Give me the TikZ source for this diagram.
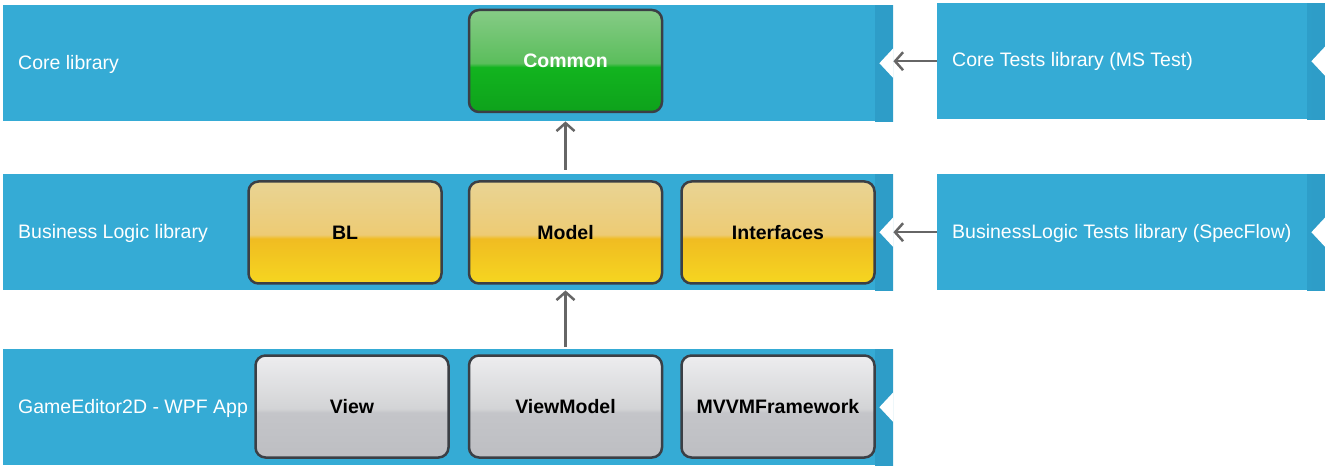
\documentclass[tikz,border=0pt]{standalone}
\usepackage{fontspec}
\setmainfont{Liberation Sans}
\usetikzlibrary{positioning, arrows.meta}

\definecolor{bandblue}{HTML}{35ABD5}
\definecolor{bandedge}{HTML}{2E9DC8}
\definecolor{boxline}{HTML}{3B3F45}
\definecolor{arrowgray}{HTML}{666666}
\definecolor{greenA}{HTML}{86CB86}
\definecolor{greenB}{HTML}{5BBE5C}
\definecolor{greenC}{HTML}{12B41F}
\definecolor{greenD}{HTML}{0EA21B}
\definecolor{yellowA}{HTML}{E9D494}
\definecolor{yellowB}{HTML}{EDCB74}
\definecolor{yellowC}{HTML}{F0BC22}
\definecolor{yellowD}{HTML}{F6D620}
\definecolor{grayA}{HTML}{EDEDEF}
\definecolor{grayB}{HTML}{D3D4D6}
\definecolor{grayC}{HTML}{C4C5C9}
\definecolor{grayD}{HTML}{BDBEC2}

\pgfdeclareverticalshading{greengloss}{100bp}{color(0bp)=(greenD); color(25bp)=(greenD); color(47bp)=(greenC); color(49bp)=(greenB); color(75bp)=(greenA); color(100bp)=(greenA)}
\pgfdeclareverticalshading{yellowgloss}{100bp}{color(0bp)=(yellowD); color(25bp)=(yellowD); color(47bp)=(yellowC); color(49bp)=(yellowB); color(75bp)=(yellowA); color(100bp)=(yellowA)}
\pgfdeclareverticalshading{graygloss}{100bp}{color(0bp)=(grayD); color(25bp)=(grayD); color(47bp)=(grayC); color(49bp)=(grayB); color(75bp)=(grayA); color(100bp)=(grayA)}

\tikzset{
	band/.style={fill=bandblue, minimum width=890pt, minimum height=116pt, anchor=north west, inner sep=0pt,
		path picture={\shade[left color=bandblue, right color=bandedge] ([xshift=-18pt]path picture bounding box.north east) rectangle (path picture bounding box.south east);}},
	bandlabel/.style={text=white, font=\fontsize{19.5}{22}\selectfont, inner sep=0pt},
	module/.style={draw=boxline, line width=2.5pt, rounded corners=10pt, minimum width=193pt, minimum height=102pt, font=\bfseries\fontsize{19.5}{22}\selectfont},
	common/.style={module, shading=greengloss, text=white},
	logic/.style={module, shading=yellowgloss},
	ui/.style={module, shading=graygloss},
	dep/.style={draw=arrowgray, line width=2.5pt, -{Straight Barb[length=8pt,width=18pt]}}
}

\begin{document}
\begin{tikzpicture}[x=1pt, y=-1pt]
				\useasboundingbox (0,0) rectangle (1325,470);
				% layers
				\node[band] (core) at (3,5) {};
				\node[band] (bl) at (3,174) {};
				\node[band] (app) at (3,349) {};
				\node[band, minimum width=388pt] (coretests) at (937,3) {};
				\node[band, minimum width=388pt] (bltests) at (937,174) {};
				\foreach \b in {core,bl,app,coretests,bltests}
					\fill[white] ([yshift=15pt]\b.east) -- ++(-14,15) -- ++(14,15) -- cycle;
				\node[bandlabel, right=15pt of core.west, yshift=-1pt] (corelabel) {Core library};
				\node[bandlabel, right=15pt of bl.west, yshift=-1pt] (bllabel) {Business Logic library};
				\node[bandlabel, right=15pt of app.west, yshift=-1pt] (applabel) {GameEditor2D - WPF App};
				\node[bandlabel, right=15pt of coretests.west] (coretestslabel) {Core Tests library (MS Test)};
				\node[bandlabel, right=15pt of bltests.west, yshift=-1pt] (bltestslabel) {BusinessLogic Tests library (SpecFlow)};
				% modules
				\node[common] (common) at (565.5,61) {Common};
				\node[logic] (model) at (565.5,232.5) {Model};
				\node[logic, left=25pt of model] (bltier) {BL};
				\node[logic, right=17pt of model] (interfaces) {Interfaces};
				\node[ui] (viewmodel) at (565.5,406.5) {ViewModel};
				\node[ui, left=18pt of viewmodel] (view) {View};
				\node[ui, right=17pt of viewmodel] (mvvm) {MVVMFramework};
				% dependencies
				\draw[dep] ([yshift=4pt]model |- bl.north) -- (common |- core.south);
				\draw[dep] ([yshift=2pt]viewmodel |- app.north) -- (model |- bl.south);
				\draw[dep] (coretests.west) -- (coretests.west -| core.east);
				\draw[dep] (bltests.west) -- (bltests.west -| bl.east);
			\end{tikzpicture}
\end{document}
